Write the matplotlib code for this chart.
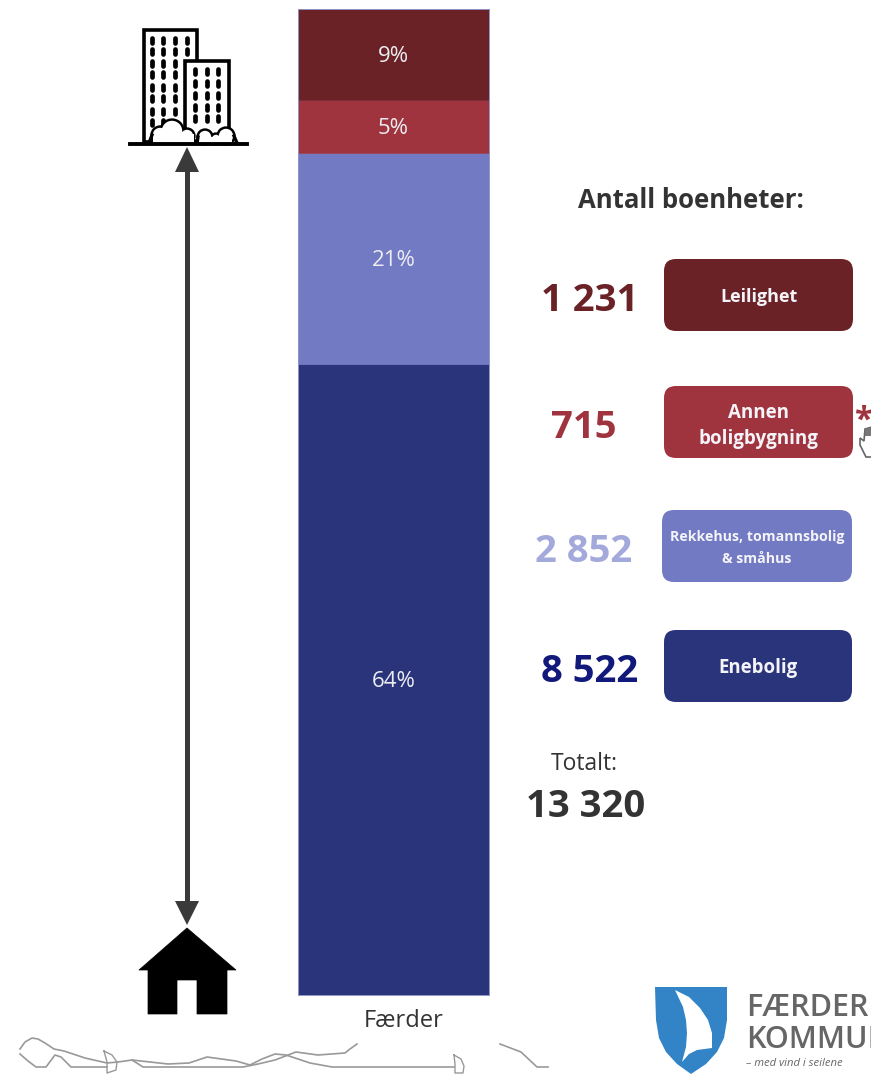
import matplotlib
matplotlib.use('Agg')
import matplotlib.pyplot as plt
from matplotlib.patches import FancyBboxPatch, Rectangle, Polygon, Circle

plt.rcParams.update({'font.family': ['Open Sans', 'DejaVu Sans']})

W, H = 871, 1074

# data, bottom to top
categories = ['Enebolig', 'Rekkehus, tomannsbolig\n& småhus', 'Annen\nboligbygning', 'Leilighet']
counts = [8522, 2852, 715, 1231]
count_labels = ['8 522', '2 852', '715', '1 231']
pct_labels = ['64%', '21%', '5%', '9%']
bar_name = 'Færder'
total_label = '13 320'

bar_colors = ['#2A347A', '#727AC4', '#9F333E', '#6A2227']
count_colors = ['#11197A', '#A4A9DC', '#9F333E', '#6A2227']
box_x = [664, 662, 664, 664]
box_y = [630, 510, 386, 259]
box_w = [188, 190, 189, 189]
box_fs = [13.4, 10.2, 13.5, 13]
box_ls = [1.15, 1.66, 1.45, 1.15]
box_dy = [38, 38, 40, 38]
count_x = [590, 584, 584, 590]

fig = plt.figure(figsize=(W / 100, H / 100), dpi=100)


def add_axes_px(x0, y0, x1, y1):
    return fig.add_axes([x0 / W, 1 - y1 / H, (x1 - x0) / W, (y1 - y0) / H])


# stacked bar
ax = add_axes_px(298, 9, 489, 995)
bottom = 0
for c, col, lab in zip(counts, bar_colors, pct_labels):
    ax.bar(0, c, width=1, bottom=bottom, color=col, edgecolor=col, linewidth=0.4)
    ax.text(0, bottom + c / 2 - 32, lab, color='#EDEDF2', fontsize=16, ha='center', va='center')
    bottom += c
ax.set_xlim(-0.5, 0.5)
ax.set_ylim(0, sum(counts))
for s in ax.spines.values():
    s.set_color('#8F94C4')
    s.set_linewidth(0.7)
ax.set_yticks([])
ax.set_xticks([])

# overlay in pixel coordinates for legend boxes, icons and logo
ov = fig.add_axes([0, 0, 1, 1], zorder=5)
ov.set_xlim(0, W)
ov.set_ylim(H, 0)
ov.axis('off')
ov.patch.set_alpha(0)

ov.text(404, 1021, bar_name, fontsize=17, color='#333333', ha='center', va='center')
ov.text(691, 200, 'Antall boenheter:', fontsize=18.5, fontweight='bold', color='#333333',
        ha='center', va='center')
for cat, lab, ccol, col, x, y, w, fs, ls, dy, cx in zip(categories, count_labels, count_colors, bar_colors,
                                                        box_x, box_y, box_w, box_fs, box_ls, box_dy, count_x):
    ov.add_patch(FancyBboxPatch((x + 12, y + 12), w - 24, 72 - 24, boxstyle='round,pad=12',
                                fc=col, ec='none'))
    ov.text(x + w / 2, y + dy, cat, color='#F4F4F8', fontsize=fs, fontweight='bold',
            ha='center', va='center', linespacing=ls)
    ov.text(cx, y + 42, lab, color=ccol, fontsize=27.5, fontweight='bold', ha='center', va='center')
ov.text(584, 764, 'Totalt:', fontsize=16.5, color='#333333', ha='center', va='center')
ov.text(586, 807, total_label, fontsize=27.5, fontweight='bold', color='#333333', ha='center', va='center')

# star and hand stub at the clipped right edge
ov.text(864, 421, '*', fontsize=24, color='#9F333E', ha='center', va='center', fontweight='bold')
ov.add_patch(Polygon([(872, 427), (865, 429), (864, 441), (860, 438), (860, 445), (866, 457), (872, 457)],
                     fc='white', ec='#666666', lw=1.2))
ov.add_patch(Polygon([(872, 427), (865, 429), (865, 436), (872, 436)], fc='#777777', ec='none'))

# double arrow
ov.plot([187, 187], [165, 906], color='#3A3A3A', lw=3.6, solid_capstyle='butt')
ov.add_patch(Polygon([(187, 147), (175, 172), (199, 172)], fc='#3A3A3A', ec='none'))
ov.add_patch(Polygon([(187, 925), (175, 901), (199, 901)], fc='#3A3A3A', ec='none'))

# building icon
ov.add_patch(Rectangle((144, 30), 53, 112, fc='white', ec='black', lw=2.6))
ov.add_patch(Rectangle((185, 61), 44, 80, fc='white', ec='black', lw=2.6))
for px in (152, 163, 175, 187):
    for py in (40, 51, 63, 74, 87, 98, 111, 122):
        if px == 187 and py > 51:
            continue
        if px > 170 and py > 115:
            continue
        ov.plot([px, px], [py - 2.5, py + 2.5], color='black', lw=3.4, solid_capstyle='round')
for px in (195, 207, 218):
    for py in (71, 83, 95, 107, 118):
        ov.plot([px, px], [py - 2.5, py + 2.5], color='black', lw=3.4, solid_capstyle='round')
cloud_a = [(160, 135, 8), (172, 131, 11), (187, 136, 7)]
cloud_b = [(205, 137, 7), (216, 139, 5), (226, 136, 8)]
for cloud in (cloud_a, cloud_b):
    for cx, cy, r in cloud:
        ov.add_patch(Circle((cx, cy), r, fc='white', ec='black', lw=2.4, zorder=3))
    for cx, cy, r in cloud:
        ov.add_patch(Circle((cx, cy), r - 0.8, fc='white', ec='none', zorder=3.1))
ov.plot([152, 149], [135, 143], color='black', lw=2.4, zorder=3.3)
ov.plot([234, 237], [136, 143], color='black', lw=2.4, zorder=3.3)
ov.plot([198, 197], [137, 143], color='black', lw=2.4, zorder=3.3)
ov.add_patch(Rectangle((153, 134), 41, 9, fc='white', ec='none', zorder=3.2))
ov.add_patch(Rectangle((199, 137), 33, 6, fc='white', ec='none', zorder=3.2))
ov.plot([130, 247], [144, 144], color='black', lw=2.8, zorder=5)

# house icon
ov.add_patch(Polygon([(187, 928), (236, 970), (227, 970), (227, 1014), (197, 1014), (197, 980),
                      (177, 980), (177, 1014), (148, 1014), (148, 970), (139, 970)],
                     fc='black', ec='black', lw=0.5, joinstyle='round'))

# coastline sketch
line_col = '#999999'
ov.plot([20, 25, 32, 38, 45, 54, 64, 85, 107, 118, 132, 150, 168, 189, 207, 236, 250, 262, 275, 286, 310, 332, 454],
        [1049, 1042, 1038, 1039, 1043, 1049, 1051, 1058, 1063, 1062, 1060, 1062, 1064, 1063, 1057, 1061, 1065, 1059, 1054, 1055, 1063, 1067, 1067],
        color=line_col, lw=1.2)
ov.plot([20, 28, 36, 46, 55, 61, 71, 107],
        [1054, 1061, 1067, 1067, 1055, 1057, 1067, 1067], color=line_col, lw=1.2)
ov.plot([132, 143, 243, 258, 275, 296, 318, 345, 350, 357],
        [1060, 1067, 1067, 1064, 1060, 1052, 1055, 1053, 1049, 1044], color=line_col, lw=1.2)
ov.plot([500, 521, 537, 548], [1044, 1052, 1067, 1067], color=line_col, lw=1.2)
ov.plot([104, 112, 117, 116, 107, 107, 104], [1051, 1055, 1062, 1070, 1073, 1062, 1051], color=line_col, lw=1.0)
ov.plot([454, 461, 464, 463, 455, 455, 454], [1055, 1059, 1066, 1073, 1073, 1064, 1055], color=line_col, lw=1.0)

# logo
ov.add_patch(Polygon([(655, 987), (727, 987), (727, 1020), (724, 1038), (717, 1052), (706, 1064), (691, 1074),
                      (677, 1064), (666, 1052), (659, 1038), (656, 1020)], fc='#3284C7', ec='none'))
ov.add_patch(Polygon([(675, 990), (689, 997), (700, 1008), (708, 1020), (712, 1033), (712, 1048), (697, 1050),
                      (689, 1054), (682, 1062), (686, 1047), (687, 1033), (686, 1020), (683, 1007)],
                     fc='white', ec='none'))
ov.text(746, 1008, 'FÆRDER', fontsize=22, fontweight='semibold', color='#666666', ha='left', va='center')
ov.text(746, 1040, 'KOMMUNE', fontsize=22, fontweight='semibold', color='#666666', ha='left', va='center')
ov.text(746, 1064, '– med vind i seilene', fontsize=8.1, style='italic', color='#666666', ha='left', va='center')

fig.savefig('out.png', dpi=100)
